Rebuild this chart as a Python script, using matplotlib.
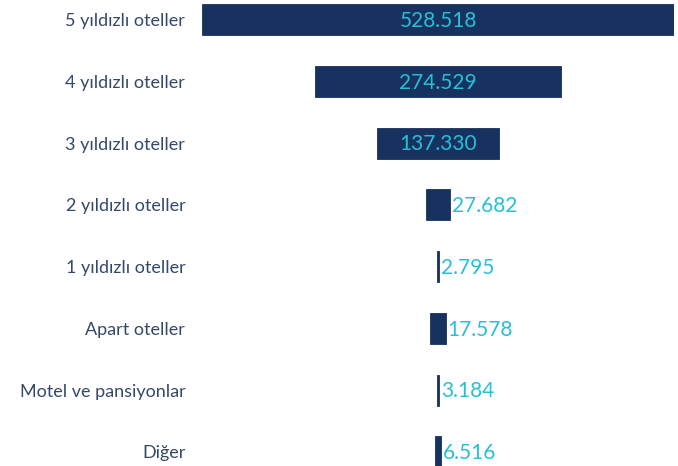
import matplotlib
matplotlib.use("Agg")
import matplotlib.pyplot as plt

categories = ["5 yıldızlı oteller", "4 yıldızlı oteller", "3 yıldızlı oteller",
              "2 yıldızlı oteller", "1 yıldızlı oteller", "Apart oteller",
              "Motel ve pansiyonlar", "Diğer"]
values = [528.518, 274.529, 137.330, 27.682, 2.795, 17.578, 3.184, 6.516]
labels = ["528.518", "274.529", "137.330", "27.682", "2.795", "17.578", "3.184", "6.516"]

bar_color = "#17325f"
value_color = "#26c0d6"
tick_color = "#34496a"

fig = plt.figure(figsize=(6.78, 4.66), dpi=100)
ax = fig.add_axes([202 / 678, 0, 472 / 678, 1])

half = max(values) / 2
ax.set_xlim(-half, half)
ax.set_ylim(7.23, -0.32)

ys = list(range(len(values)))
lefts = [-v / 2 for v in values]
ax.barh(ys, values, left=lefts, height=0.5, color=bar_color,
        edgecolor=bar_color, linewidth=0.6)

for y, v, lab in zip(ys, values, labels):
    if v > 60:
        ax.text(0, y + 0.02, lab, ha="center", va="center", color=value_color,
                fontsize=15, family="Lato")
    else:
        ax.text(v / 2 + 1.8, y + 0.02, lab, ha="left", va="center", color=value_color,
                fontsize=15, family="Lato", clip_on=False)

ax.set_yticks(ys)
ax.set_yticklabels(categories, family="Lato", fontsize=13, color=tick_color)
ax.tick_params(axis="y", length=0, pad=12)
ax.set_xticks([])
for s in ax.spines.values():
    s.set_visible(False)

fig.savefig("out.png", dpi=100)
